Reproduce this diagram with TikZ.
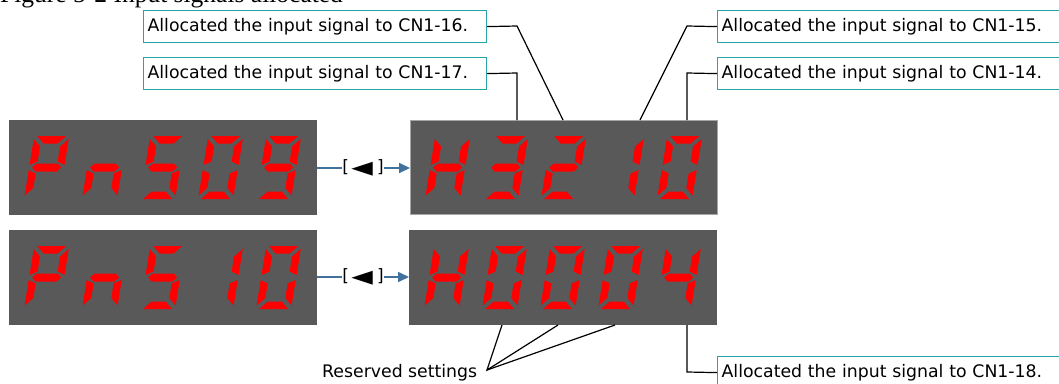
\documentclass[tikz,border=0pt]{standalone}
\usepackage{fontspec}
\setmainfont{DejaVu Sans}
\newfontfamily\serifT{Liberation Serif}
\usetikzlibrary{arrows.meta}
\definecolor{segred}{RGB}{255,0,0}
\definecolor{dispgray}{RGB}{89,89,89}
\definecolor{tealb}{RGB}{38,164,168}
\definecolor{arrowblue}{RGB}{65,113,156}
% seven-segment shapes (local units: px, y up from digit bottom)
\def\sega{(3,63)--(32,63)--(24.5,55.5)--(10.5,55.5)--cycle}
\def\segd{(3,0)--(32,0)--(24.5,7.5)--(10.5,7.5)--cycle}
\def\segg{(3,31.5)--(7,35.5)--(28,35.5)--(32,31.5)--(28,27.5)--(7,27.5)--cycle}
\def\segf{(0,60)--(7.5,52.5)--(7.5,37.5)--(0,34)--cycle}
\def\segb{(35,60)--(27.5,52.5)--(27.5,37.5)--(35,34)--cycle}
\def\sege{(0,3.5)--(7.5,11)--(7.5,25.5)--(0,29)--cycle}
\def\segc{(35,3.5)--(27.5,11)--(27.5,25.5)--(35,29)--cycle}
\def\dP{a,b,e,f,g}
\def\dn{c,e,g}
\def\dFive{a,c,d,f,g}
\def\dZero{a,b,c,d,e,f}
\def\dNine{a,b,c,d,f,g}
\def\dOne{b,c}
\def\dH{b,c,e,f,g}
\def\dThree{a,b,c,d,g}
\def\dTwo{a,b,d,e,g}
\def\dFour{b,c,f,g}
\newcommand\sevdigit[3]{%
  \begin{scope}[shift={(#1,#2)},x={(1pt,0pt)},y={(0.163pt,1pt)}]
    \foreach \s in #3 {\fill[segred] \csname seg\s\endcsname;}
  \end{scope}}
\newcommand\sevrow[7]{%
  \sevdigit{#1+15}{#2+79}{#3}%
  \sevdigit{#1+73}{#2+79}{#4}%
  \sevdigit{#1+131}{#2+79}{#5}%
  \sevdigit{#1+189}{#2+79}{#6}%
  \sevdigit{#1+247}{#2+79}{#7}}
\newcommand\keylabel{[\kern2.5pt{\fontsize{28}{28}\selectfont\raisebox{-3.2pt}{◄}}\kern4pt]}
\tikzset{
  disp/.style={fill=dispgray, draw=none, anchor=north west, minimum width=308pt, minimum height=95pt, inner sep=0pt},
  callout/.style={draw=tealb, line width=1.2pt, fill=white, anchor=north west, text width=335pt,
    inner xsep=4pt, inner ysep=0pt, minimum height=32pt, align=left, font=\fontsize{17.3}{20}\selectfont},
  conn/.style={draw=black, line width=1.2pt},
  keyline/.style={draw=arrowblue, line width=1.6pt},
  keytext/.style={inner sep=0pt, font=\fontsize{17}{20}\selectfont}
}
\begin{document}
\begin{tikzpicture}[x=1pt,y=-1pt]
\useasboundingbox (0,0) rectangle (1059,383);
\clip (0,0) rectangle (1059,383);
\fill[white] (0,0) rectangle (1059,383);
% title (cut off at the top)
\node[font=\serifT\fontsize{25.5}{30}\selectfont, anchor=base west, inner sep=0pt] (title) at (0,2.5) {Figure 5-2 Input signals allocated};
% displays
\node[disp] (d1) at (9,120) {};
\node[disp, draw=gray!70, line width=0.8pt, minimum width=307pt, minimum height=94pt] (d2) at (410,120) {};
\node[disp] (d3) at (9,230) {};
\node[disp] (d4) at (409,230) {};
\sevrow{9}{120}{\dP}{\dn}{\dFive}{\dZero}{\dNine}
\sevrow{410}{120}{\dH}{\dThree}{\dTwo}{\dOne}{\dZero}
\sevrow{9}{230}{\dP}{\dn}{\dFive}{\dOne}{\dZero}
\sevrow{409}{230}{\dH}{\dZero}{\dZero}{\dZero}{\dFour}
% key arrows
\node[keytext] (k1) at (363,168) {\keylabel};
\node[keytext] (k2) at (363,277) {\keylabel};
\draw[keyline] (d1.east |- k1) -- (k1.west);
\draw[keyline,-{Triangle[length=11pt,width=10pt]}] (k1.east) -- (d2.west |- k1);
\draw[keyline] (d3.east |- k2) -- (k2.west);
\draw[keyline,-{Triangle[length=11pt,width=10pt]}] (k2.east) -- (d4.west |- k2);
% callouts
\node[callout] (b16) at (143,10) {Allocated the input signal to CN1-16.};
\node[callout] (b17) at (143,57) {Allocated the input signal to CN1-17.};
\node[callout] (b15) at (717,10) {Allocated the input signal to CN1-15.};
\node[callout] (b14) at (717,57) {Allocated the input signal to CN1-14.};
\node[callout] (b18) at (717,356) {Allocated the input signal to CN1-18.};
\coordinate (k16) at (517,26);
\coordinate (t16) at (563,120);
\coordinate (k17) at (517,73);
\coordinate (t17) at (517,120);
\coordinate (k15) at (687,26);
\coordinate (t15) at (640,120);
\coordinate (k14) at (687,73);
\coordinate (t14) at (687,120);
\coordinate (k18) at (687,372);
\coordinate (t18) at (687,325);
\draw[conn] (b16.east) -- (k16) -- (t16);
\draw[conn] (b17.east) -- (k17) -- (t17);
\draw[conn] (b15.west) -- (k15) -- (t15);
\draw[conn] (b14.west) -- (k14) -- (t14);
\draw[conn] (b18.west) -- (k18) -- (t18);
% reserved settings
\node[anchor=base west, inner sep=0pt, font=\fontsize{17.3}{20}\selectfont] (rs) at (322,377) {Reserved settings};
\coordinate (rsp) at (487,370);
\coordinate (r1) at (502,325);
\coordinate (r2) at (558,325);
\coordinate (r3) at (615,325);
\draw[conn] (r1) -- (rsp) -- (r2);
\draw[conn] (rsp) -- (r3);
\end{tikzpicture}
\end{document}
